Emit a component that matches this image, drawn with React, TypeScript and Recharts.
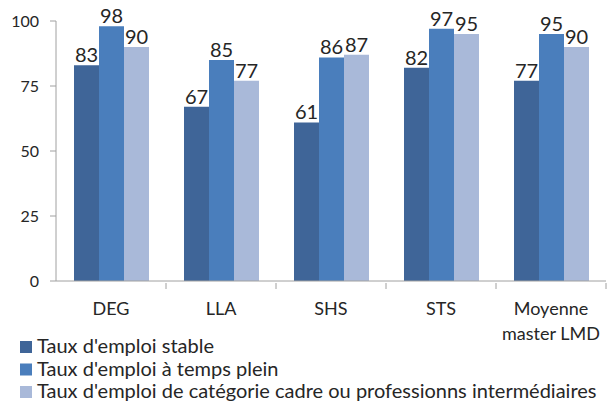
import { BarChart, Bar, XAxis, YAxis, LabelList } from 'recharts'

const categories = ['DEG', 'LLA', 'SHS', 'STS', 'Moyenne master LMD']
const stable = [83, 67, 61, 82, 77]
const tempsPlein = [98, 85, 86, 97, 95]
const cadre = [90, 77, 87, 95, 90]
const yTicks = [0, 25, 50, 75, 100]

const seriesNames = [
  "Taux d'emploi stable",
  "Taux d'emploi à temps plein",
  "Taux d'emploi de catégorie cadre ou professionns intermédiaires",
]
const colors = ['#3F6598', '#4A7EBC', '#A9B9D9']

const data = categories.map((c, i) => ({
  name: c,
  stable: stable[i],
  plein: tempsPlein[i],
  cadre: cadre[i],
}))

const W = 608
const H = 403
const M = { top: 21, right: 2, left: 0, bottom: 82 }
const Y_W = 56
const band = (W - M.left - M.right - Y_W) / categories.length
const FONT = 'Lato, "Noto Sans", sans-serif'
const TXT = '#262626'

function CatTick(props: any) {
  const { x, y, payload } = props
  const words = payload.value === 'Moyenne master LMD' ? ['Moyenne', 'master LMD'] : [payload.value]
  return (
    <g>
      <line x1={x + band / 2} x2={x + band / 2} y1={y - 6} y2={y} stroke="#A0A0A0" />
      {words.map((w, i) => (
        <text key={i} x={x} y={y + 26 + i * 25} textAnchor="middle" fill={TXT} fontSize={18} fontFamily={FONT}>
          {w}
        </text>
      ))}
    </g>
  )
}

function LegendBox() {
  return (
    <svg width={W} height={H} style={{ position: 'absolute', left: 0, top: 0, pointerEvents: 'none' }}>
      {seriesNames.map((n, i) => (
        <g key={i}>
          <rect x={20} y={341 + i * 22.5} width={12} height={12} fill={colors[i]} />
          <text x={37} y={353 + i * 22.5} fill={TXT} fontSize={20} fontFamily={FONT}>
            {n}
          </text>
        </g>
      ))}
    </svg>
  )
}

export default function App() {
  return (
    <div style={{ position: 'absolute', left: 0, top: 0, width: W, height: H, background: '#fff' }}>
      <BarChart width={W} height={H} data={data} margin={M} barGap={0} barCategoryGap={18}>
        <XAxis
          dataKey="name"
          axisLine={{ stroke: '#A0A0A0' }}
          tickLine={false}
          tick={<CatTick />}
          interval={0}
          height={40}
        />
        <YAxis
          domain={[0, 100]}
          ticks={yTicks}
          width={Y_W}
          axisLine={{ stroke: '#A0A0A0' }}
          tickLine={{ stroke: '#A0A0A0' }}
          tickSize={6}
          tickMargin={11}
          tick={{ fill: TXT, fontSize: 16, fontFamily: FONT }}
        />
        <Bar dataKey="stable" fill={colors[0]} isAnimationActive={false}>
          <LabelList dataKey="stable" position="top" offset={3} fill={TXT} fontSize={20} fontFamily={FONT} />
        </Bar>
        <Bar dataKey="plein" fill={colors[1]} isAnimationActive={false}>
          <LabelList dataKey="plein" position="top" offset={3} fill={TXT} fontSize={20} fontFamily={FONT} />
        </Bar>
        <Bar dataKey="cadre" fill={colors[2]} isAnimationActive={false}>
          <LabelList dataKey="cadre" position="top" offset={3} fill={TXT} fontSize={20} fontFamily={FONT} />
        </Bar>
      </BarChart>
      <LegendBox />
    </div>
  )
}
